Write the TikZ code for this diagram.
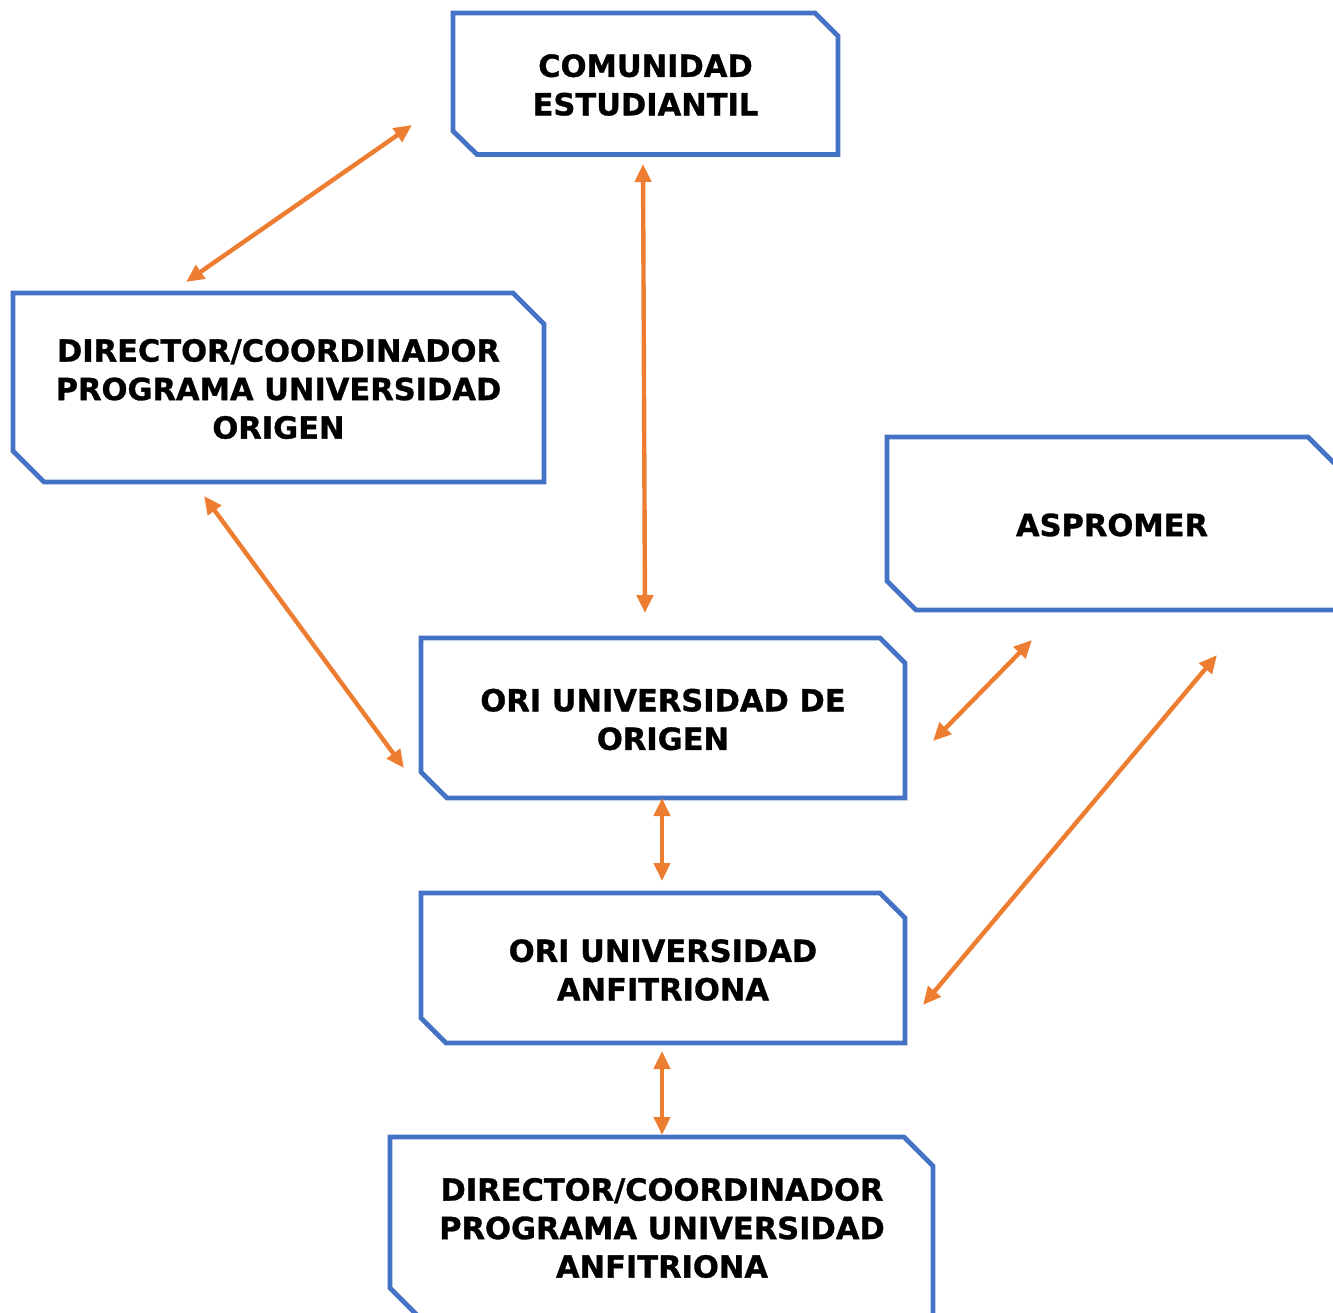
\documentclass[tikz,border=0pt]{standalone}
\usepackage{fontspec}
\setmainfont{DejaVu Sans}[BoldFeatures={FakeBold=1}]
\usetikzlibrary{arrows.meta}
\definecolor{boxblue}{HTML}{4472C4}
\definecolor{arrorange}{HTML}{ED7D31}
\tikzset{
  boxline/.style={draw=boxblue, line width=4.8pt, line join=miter},
  label/.style={align=center, inner sep=0pt, font=\fontsize{30.5pt}{38.5pt}\selectfont\bfseries},
  link/.style={draw=arrorange, line width=4.4pt, {Triangle[length=18pt,width=16pt]}-{Triangle[length=18pt,width=16pt]}}
}
\begin{document}
\begin{tikzpicture}[x=1pt,y=-1pt]
\useasboundingbox (0,0) rectangle (1333,1312);
\clip (0,0) rectangle (1333,1312);
% boxes
\draw[boxline] (453,13) -- (815,13) -- (838,36) -- (838,154.5) -- (477,154.5) -- (453,131) -- cycle;
\draw[boxline] (13,293) -- (513,293) -- (544,324) -- (544,482) -- (44,482) -- (13,451) -- cycle;
\draw[boxline] (887,437) -- (1308,437) -- (1338,467) -- (1338,610) -- (916,610) -- (887,581) -- cycle;
\draw[boxline] (421,638) -- (880,638) -- (905,663) -- (905,798) -- (447,798) -- (421,772) -- cycle;
\draw[boxline] (421,893) -- (880,893) -- (905,918) -- (905,1043) -- (446,1043) -- (421,1018) -- cycle;
\draw[boxline] (390,1137) -- (904,1137) -- (933,1166) -- (933,1318) -- (420,1318) -- (390,1288) -- cycle;
% labels
\node[label] (com) at (645.5,85) {COMUNIDAD\\ESTUDIANTIL};
\node[label] (dirO) at (278.5,389) {DIRECTOR/COORDINADOR\\PROGRAMA UNIVERSIDAD\\ORIGEN};
\node[label] (asp) at (1112,525) {ASPROMER};
\node[label] (oriO) at (663,719.5) {ORI UNIVERSIDAD DE\\ORIGEN};
\node[label] (oriA) at (663,970) {ORI UNIVERSIDAD\\ANFITRIONA};
\node[label] (dirA) at (662,1228) {DIRECTOR/COORDINADOR\\PROGRAMA UNIVERSIDAD\\ANFITRIONA};
% connector ends
\coordinate (c1a) at (412,125);  \coordinate (c1b) at (186,282);
\coordinate (c2a) at (643,164);  \coordinate (c2b) at (645,613);
\coordinate (c3a) at (204,496);  \coordinate (c3b) at (404,768);
\coordinate (c4a) at (1032,640); \coordinate (c4b) at (933,741);
\coordinate (c5a) at (1217,655); \coordinate (c5b) at (923,1005);
\coordinate (c6a) at (662,798);  \coordinate (c6b) at (662,881);
\coordinate (c7a) at (662,1051); \coordinate (c7b) at (662,1135);
\draw[link] (c1a) -- (c1b);
\draw[link] (c2a) -- (c2b);
\draw[link] (c3a) -- (c3b);
\draw[link] (c4a) -- (c4b);
\draw[link] (c5a) -- (c5b);
\draw[link] (c6a) -- (c6b);
\draw[link] (c7a) -- (c7b);
\end{tikzpicture}
\end{document}
